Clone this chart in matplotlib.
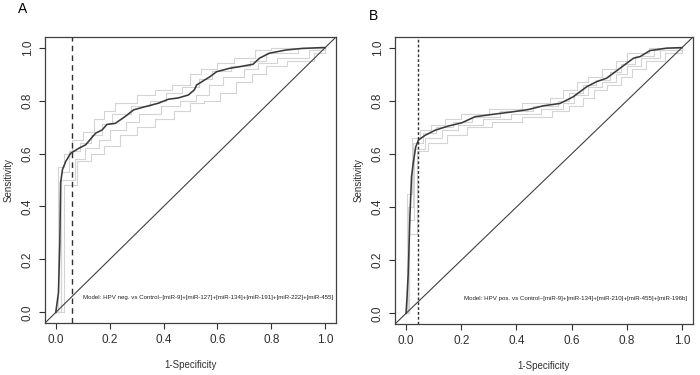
import numpy as np
import matplotlib
matplotlib.use("Agg")
import matplotlib.pyplot as plt

plt.rcParams['font.family'] = ['Liberation Sans', 'DejaVu Sans']

# panel A: HPV neg. vs control - main ROC curve
a_fpr = [0.0, 0.01, 0.015, 0.018, 0.025, 0.037, 0.055, 0.086, 0.111, 0.148, 0.172, 0.19,
         0.221, 0.258, 0.289, 0.332, 0.381, 0.418, 0.455, 0.492, 0.514, 0.523, 0.572,
         0.597, 0.646, 0.683, 0.732, 0.756, 0.793, 0.855, 0.916, 0.99, 1.0]
a_tpr = [0.0, 0.075, 0.26, 0.49, 0.54, 0.57, 0.601, 0.62, 0.633, 0.677, 0.689, 0.71,
         0.714, 0.74, 0.765, 0.777, 0.79, 0.805, 0.81, 0.821, 0.84, 0.859, 0.89,
         0.909, 0.922, 0.928, 0.937, 0.96, 0.979, 0.991, 0.997, 1.0, 1.0]
# panel A: grey resampled step curves
a_grey_fpr = [
    [0.0, 0.01, 0.03, 0.06, 0.1, 0.14, 0.18, 0.22, 0.3, 0.37, 0.43, 0.5, 0.54, 0.6, 0.66, 0.74, 0.8, 1.0],
    [0.0, 0.02, 0.05, 0.09, 0.13, 0.17, 0.21, 0.28, 0.35, 0.41, 0.47, 0.53, 0.58, 0.65, 0.72, 0.78, 0.9, 1.0],
    [0.0, 0.02, 0.07, 0.11, 0.16, 0.2, 0.26, 0.31, 0.39, 0.46, 0.52, 0.57, 0.62, 0.7, 0.75, 0.82, 0.94, 1.0],
    [0.0, 0.03, 0.08, 0.13, 0.18, 0.24, 0.3, 0.37, 0.44, 0.5, 0.55, 0.61, 0.67, 0.73, 0.78, 0.86, 0.96, 1.0],
]
a_grey_tpr = [
    [0.0, 0.55, 0.6, 0.65, 0.68, 0.73, 0.76, 0.79, 0.82, 0.84, 0.86, 0.9, 0.92, 0.94, 0.96, 0.99, 1.0, 1.0],
    [0.0, 0.53, 0.61, 0.64, 0.67, 0.71, 0.75, 0.78, 0.8, 0.83, 0.85, 0.88, 0.91, 0.93, 0.95, 0.98, 1.0, 1.0],
    [0.0, 0.5, 0.58, 0.62, 0.65, 0.69, 0.72, 0.75, 0.78, 0.8, 0.82, 0.86, 0.89, 0.92, 0.94, 0.96, 0.99, 1.0],
    [0.0, 0.48, 0.57, 0.6, 0.63, 0.67, 0.7, 0.73, 0.76, 0.79, 0.8, 0.83, 0.87, 0.9, 0.93, 0.95, 0.98, 1.0],
]
a_cut = 0.059
a_note = "Model: HPV neg. vs Control~[miR-9]+[miR-127]+[miR-134]+[miR-191]+[miR-222]+[miR-455]"

# panel B: HPV pos. vs control - main ROC curve
b_fpr = [0.0, 0.003, 0.008, 0.014, 0.02, 0.026, 0.035, 0.045, 0.069, 0.105, 0.153, 0.202,
         0.25, 0.322, 0.383, 0.443, 0.497, 0.558, 0.606, 0.655, 0.691, 0.727, 0.775,
         0.824, 0.848, 0.884, 0.944, 0.998, 1.0]
b_tpr = [0.0, 0.05, 0.15, 0.365, 0.515, 0.565, 0.626, 0.652, 0.67, 0.689, 0.705, 0.717,
         0.74, 0.75, 0.758, 0.767, 0.781, 0.79, 0.815, 0.853, 0.872, 0.885, 0.922,
         0.96, 0.966, 0.989, 0.998, 1.0, 1.0]
b_grey_fpr = [
    [0.0, 0.005, 0.02, 0.05, 0.09, 0.14, 0.2, 0.3, 0.42, 0.52, 0.57, 0.62, 0.66, 0.71, 0.76, 0.8, 0.88, 1.0],
    [0.0, 0.008, 0.025, 0.06, 0.11, 0.17, 0.24, 0.34, 0.46, 0.55, 0.59, 0.64, 0.69, 0.74, 0.78, 0.83, 0.9, 1.0],
    [0.0, 0.01, 0.03, 0.07, 0.13, 0.19, 0.28, 0.38, 0.49, 0.57, 0.61, 0.66, 0.71, 0.76, 0.8, 0.85, 0.92, 1.0],
    [0.0, 0.012, 0.04, 0.08, 0.15, 0.22, 0.31, 0.42, 0.53, 0.59, 0.64, 0.68, 0.73, 0.78, 0.82, 0.87, 0.94, 1.0],
]
b_grey_tpr = [
    [0.0, 0.45, 0.66, 0.69, 0.71, 0.73, 0.75, 0.77, 0.79, 0.81, 0.84, 0.87, 0.89, 0.92, 0.95, 0.98, 1.0, 1.0],
    [0.0, 0.4, 0.64, 0.68, 0.7, 0.72, 0.74, 0.76, 0.78, 0.8, 0.83, 0.86, 0.88, 0.91, 0.94, 0.97, 0.99, 1.0],
    [0.0, 0.35, 0.62, 0.66, 0.69, 0.71, 0.73, 0.75, 0.77, 0.79, 0.82, 0.85, 0.87, 0.9, 0.93, 0.96, 0.99, 1.0],
    [0.0, 0.3, 0.61, 0.64, 0.67, 0.7, 0.72, 0.74, 0.76, 0.78, 0.81, 0.84, 0.86, 0.89, 0.92, 0.95, 0.98, 1.0],
]
b_cut = 0.043
b_note = "Model: HPV pos. vs Control~[miR-9]+[miR-134]+[miR-210]+[miR-455]+[miR-196b]"

ticks = [0.0, 0.2, 0.4, 0.6, 0.8, 1.0]
tick_labels = ["0.0", "0.2", "0.4", "0.6", "0.8", "1.0"]


def draw_panel(ax, fpr, tpr, grey_fpr, grey_tpr, cut, note, note_x, dash_style):
    '''One ROC panel in the style of R base graphics'''
    lo, hi = -0.04, 1.04
    for gx, gy in zip(grey_fpr, grey_tpr):
        ax.plot(gx, gy, drawstyle='steps-post', color='#d4d4d4', lw=0.8, zorder=1)
    ax.plot([lo, hi], [lo, hi], color='#404040', lw=0.8, zorder=2)
    ax.plot(fpr, tpr, color='#3a3a3a', lw=1.15, zorder=3)
    ax.axvline(cut, color='#303030', lw=1.0, ls=dash_style, zorder=4)
    ax.text(note_x, 0.057, note, fontsize=4.45, ha='left', va='center', color='#202020')
    ax.set_xlim(lo, hi)
    ax.set_ylim(lo, hi)
    ax.set_xticks(ticks)
    ax.set_xticklabels(tick_labels)
    ax.set_yticks(ticks)
    ax.set_yticklabels(tick_labels, rotation=90, va='center')
    ax.tick_params(direction='out', length=4, width=0.8, labelsize=8.5,
                   colors='#303030', pad=4)
    for s in ax.spines.values():
        s.set_linewidth(0.9)
        s.set_color('#404040')
    ax.set_xlabel("1-Specificity", fontsize=7, color='#303030', labelpad=10)
    ax.set_ylabel("Sensitivity", fontsize=7, color='#303030', labelpad=6)


fig = plt.figure(figsize=(7, 3.75), dpi=100)
ax_a = fig.add_axes([45 / 700, 52 / 375, 291 / 700, 286 / 375])
ax_b = fig.add_axes([395 / 700, 51 / 375, 298 / 700, 287 / 375])

draw_panel(ax_a, a_fpr, a_tpr, a_grey_fpr, a_grey_tpr, a_cut, a_note, 0.1, (0, (4, 3)))
draw_panel(ax_b, b_fpr, b_tpr, b_grey_fpr, b_grey_tpr, b_cut, b_note, 0.21, (0, (2, 1.5)))

fig.text(23 / 700, 1 - 9 / 375, "A", fontsize=10, ha='center', va='center')
fig.text(374 / 700, 1 - 16 / 375, "B", fontsize=10, ha='center', va='center')

fig.savefig("out.png", dpi=100)
